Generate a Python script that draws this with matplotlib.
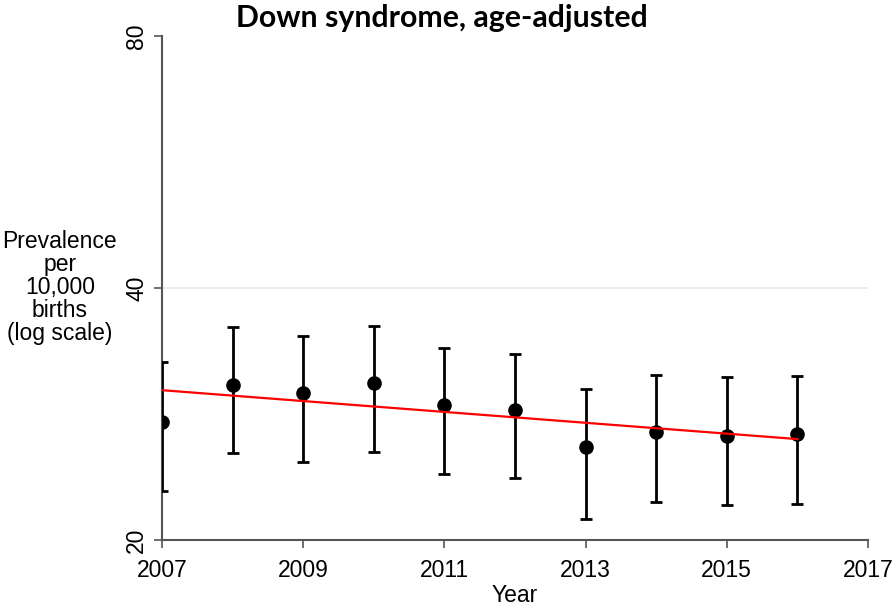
import matplotlib
matplotlib.use("Agg")
import matplotlib.pyplot as plt
from matplotlib.ticker import FixedLocator, FixedFormatter, NullLocator
import numpy as np

years = [2007, 2008, 2009, 2010, 2011, 2012, 2013, 2014, 2015, 2016]
prevalence = [27.7, 30.6, 30.0, 30.8, 29.0, 28.6, 25.8, 26.9, 26.6, 26.8]
ci_upper = [32.6, 35.9, 35.1, 36.0, 33.9, 33.4, 30.3, 31.5, 31.3, 31.4]
ci_lower = [22.9, 25.4, 24.8, 25.5, 24.0, 23.7, 21.2, 22.2, 22.0, 22.1]
trend_years = [2007, 2016]
trend_values = [30.2, 26.4]
yticks = [20, 40, 80]
xticks = [2007, 2009, 2011, 2013, 2015, 2017]

plt.rcParams['font.family'] = ['Liberation Sans', 'DejaVu Sans']

fig = plt.figure(figsize=(8.93, 6.08), dpi=100)
ax = fig.add_axes([0.1814, 0.1118, 0.7906, 0.829])

p = np.array(prevalence)
yerr = [p - np.array(ci_lower), np.array(ci_upper) - p]
ax.errorbar(years, prevalence, yerr=yerr, fmt='o', color='black', ecolor='black',
            markersize=9.5, elinewidth=2, capsize=4.5, capthick=2, zorder=3)
ax.plot(trend_years, trend_values, color='red', linewidth=1.6, zorder=4)

ax.set_yscale('log')
ax.set_ylim(20, 80)
ax.set_xlim(2007, 2017)
ax.yaxis.set_major_locator(FixedLocator(yticks))
ax.yaxis.set_major_formatter(FixedFormatter([str(t) for t in yticks]))
ax.yaxis.set_minor_locator(NullLocator())
ax.set_xticks(xticks)
ax.set_xticklabels([str(t) for t in xticks])
ax.axhline(40, color='#e8e8e8', linewidth=1.2, zorder=0)

for lbl in ax.get_yticklabels():
    lbl.set_rotation(90)
    lbl.set_va('center')

ax.tick_params(axis='both', labelsize=16.5, color='#555555', length=6, width=1.2)
ax.tick_params(axis='y', pad=4)
ax.tick_params(axis='x', pad=8)
for s in ['top', 'right']:
    ax.spines[s].set_visible(False)
for s in ['left', 'bottom']:
    ax.spines[s].set_color('#555555')
    ax.spines[s].set_linewidth(1.5)

ax.set_xlabel('Year', fontsize=16.5, labelpad=1)
fig.text(0.067, 0.527, 'Prevalence\nper\n10,000\nbirths\n(log scale)', ha='center', va='center',
         fontsize=16.5, linespacing=1.0)
fig.text(0.495, 0.971, 'Down syndrome, age-adjusted', ha='center', va='center',
         fontsize=21.8, fontweight='bold', family=['Lato', 'DejaVu Sans'])

fig.savefig('out.png', dpi=100)
